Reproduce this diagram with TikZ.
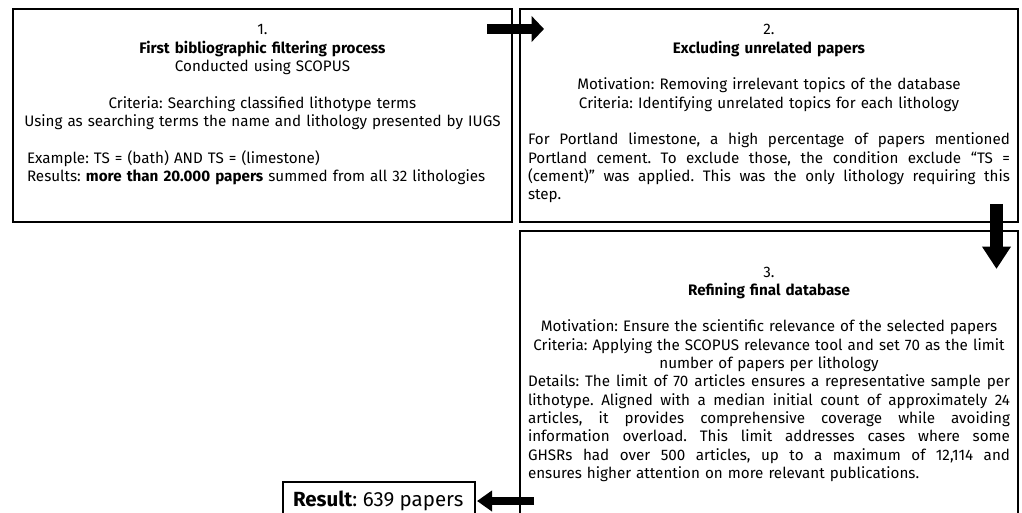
\documentclass[tikz,border=0pt]{standalone}
\usepackage{fontspec}
\setmainfont{Fira Sans}
\usetikzlibrary{arrows.meta,calc}
\frenchspacing
\tikzset{
  box/.style={draw=black, line width=1.1pt, inner sep=0pt, outer sep=0pt, rectangle},
  txt/.style={inner sep=0pt, outer sep=0pt, font=\fontsize{15.2}{18.3}\selectfont},
  restxt/.style={inner sep=0pt, outer sep=0pt, font=\fontsize{20.5}{22}\selectfont},
  arrowA/.style={draw=black, line width=10pt, -{Triangle[width=25.5pt,length=12.5pt]}},
  arrowB/.style={draw=black, line width=12.5pt, -{Triangle[width=27.5pt,length=22.5pt]}},
  arrowC/.style={draw=black, line width=8.5pt, -{Triangle[width=20pt,length=15pt]}}
}
\newcommand{\jline}[1]{\leavevmode\hbox to 482pt{\spaceskip=\fontdimen2\font plus 1fil\relax\xspaceskip=\spaceskip #1}}
\begin{document}
\begin{tikzpicture}[x=1pt,y=-1pt]
\useasboundingbox (0,0) rectangle (1022,513);
\clip (0,0) rectangle (1022,513);
% boxes
\node[box, minimum width=499pt, minimum height=213pt, anchor=north west] (b1) at (13,9) {};
\node[box, minimum width=498pt, minimum height=213pt, anchor=north west] (b2) at (520,9) {};
\node[box, minimum width=498pt, minimum height=300pt, anchor=north west] (b3) at (520,231) {};
\node[box, minimum width=192pt, minimum height=40pt, anchor=north west] (res) at (283,482) {};
% texts
\node[txt, text width=490pt, anchor=base] (t1) at (262.5,35) {%
\centering 1.\\
\textbf{First bibliographic filtering process}\\
Conducted using SCOPUS\\[\baselineskip]
Criteria: Searching classified lithotype terms\\
Using as searching terms the name and lithology presented by IUGS\\[\baselineskip]
\raggedright\leftskip=9.5pt
Example: TS = (bath) AND TS = (limestone)\\
Results: \textbf{more than 20.000 papers} summed from all 32 lithologies\par};
\node[txt, text width=482pt, anchor=base] (t2) at (769,35) {%
\centering 2.\\
\textbf{Excluding unrelated papers}\\[\baselineskip]
Motivation: Removing irrelevant topics of the database\\
Criteria: Identifying unrelated topics for each lithology\\[\baselineskip]
\raggedright
\jline{For Portland limestone, a high percentage of papers mentioned}\\
\jline{Portland cement. To exclude those, the condition exclude “TS =}\\
\jline{(cement)” was applied. This was the only lithology requiring this}\\
step.\par};
\node[txt, text width=482pt, anchor=base] (t3) at (769,277) {%
\centering 3.\\
\textbf{Refining final database}\\[\baselineskip]
Motivation: Ensure the scientific relevance of the selected papers\\
Criteria: Applying the SCOPUS relevance tool and set 70 as the limit\\
number of papers per lithology\\
\raggedright
\jline{Details: The limit of 70 articles ensures a representative sample per}\\
\jline{lithotype. Aligned with a median initial count of approximately 24}\\
\jline{articles, it provides comprehensive coverage while avoiding}\\
\jline{information overload. This limit addresses cases where some}\\
\jline{GHSRs had over 500 articles, up to a maximum of 12,114 and}\\
ensures higher attention on more relevant publications.\par};
\node[restxt, anchor=base west] (rt) at (293,506) {\textbf{Result}: 639 papers};
% connector end points
\coordinate (a1s) at ($(b1.north east)+(-25,20)$);
\coordinate (a1e) at ($(b2.north west)+(24,20)$);
\coordinate (a2s) at ($(b2.south east)+(-21.5,-18)$);
\coordinate (a2e) at ($(b3.north east)+(-21.5,38)$);
\coordinate (a3s) at ($(res.north east)+(59,19)$);
\coordinate (a3e) at ($(res.north east)+(2,19)$);
\draw[arrowA] (a1s) -- (a1e);
\draw[arrowB] (a2s) -- (a2e);
\draw[arrowC] (a3s) -- (a3e);
\end{tikzpicture}
\end{document}
